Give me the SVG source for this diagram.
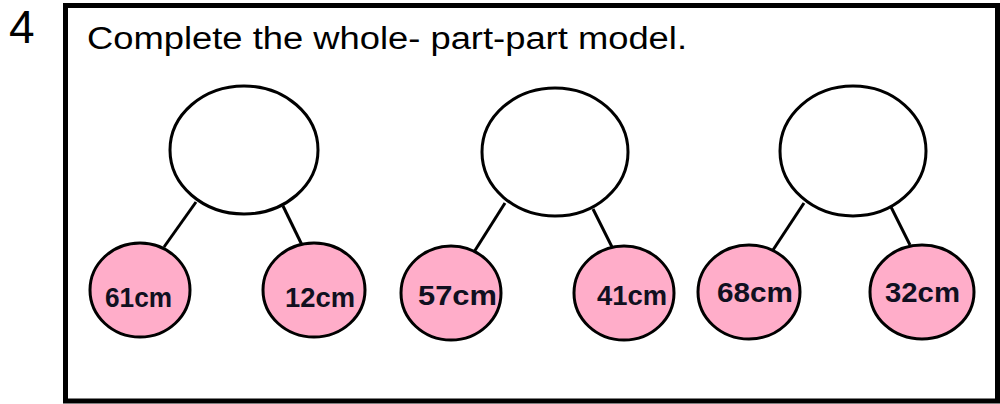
<svg xmlns="http://www.w3.org/2000/svg" width="1000" height="404" viewBox="0 0 1000 404">
<style>
.frame{fill:none;stroke:#000;stroke-width:5}
.whole{fill:#fff;stroke:#000;stroke-width:3}
.part{fill:#FFADC9;stroke:#000;stroke-width:3}
.edge{stroke:#000;stroke-width:3;fill:none}
.lbl{font-family:"Liberation Sans",Arial,sans-serif;font-weight:bold;font-size:28px;fill:#101020}
.title{font-family:"Liberation Sans",Arial,sans-serif;font-size:31px;fill:#000}
.num{font-family:"Liberation Sans",Arial,sans-serif;font-size:46px;fill:#000}
</style>
<rect width="1000" height="404" fill="#fff"/>
<text class="num" x="9" y="43">4</text>
<rect class="frame" x="65.5" y="5.5" width="932" height="395.5"/>
<text class="title" x="87" y="49" textLength="600" lengthAdjust="spacingAndGlyphs">Complete the whole- part-part model.</text>
<g id="connectors">
<line class="edge" x1="196" y1="202" x2="164" y2="247"/>
<line class="edge" x1="283" y1="206" x2="302" y2="245"/>
<line class="edge" x1="505" y1="203" x2="474" y2="252"/>
<line class="edge" x1="593" y1="209" x2="612" y2="247"/>
<line class="edge" x1="804" y1="203" x2="773" y2="250"/>
<line class="edge" x1="891" y1="207" x2="910" y2="245"/>
</g>
<g id="whole1"><ellipse class="whole" cx="244" cy="150" rx="74" ry="64"/></g>
<g id="whole2"><ellipse class="whole" cx="555" cy="152" rx="73" ry="64"/></g>
<g id="whole3"><ellipse class="whole" cx="853" cy="151" rx="73" ry="65"/></g>
<g id="part61"><ellipse class="part" cx="140" cy="290" rx="50" ry="47"/><text class="lbl" x="105" y="307" textLength="67" lengthAdjust="spacingAndGlyphs">61cm</text></g>
<g id="part12"><ellipse class="part" cx="314" cy="290" rx="51" ry="47"/><text class="lbl" x="285" y="307" textLength="70" lengthAdjust="spacingAndGlyphs">12cm</text></g>
<g id="part57"><ellipse class="part" cx="451" cy="293" rx="50" ry="47"/><text class="lbl" x="418" y="305" textLength="79" lengthAdjust="spacingAndGlyphs">57cm</text></g>
<g id="part41"><ellipse class="part" cx="624" cy="293" rx="50" ry="47"/><text class="lbl" x="597" y="305" textLength="70" lengthAdjust="spacingAndGlyphs">41cm</text></g>
<g id="part68"><ellipse class="part" cx="749" cy="292" rx="51" ry="47"/><text class="lbl" x="717" y="302" textLength="76" lengthAdjust="spacingAndGlyphs">68cm</text></g>
<g id="part32"><ellipse class="part" cx="922" cy="292" rx="52" ry="47"/><text class="lbl" x="885" y="302" textLength="75" lengthAdjust="spacingAndGlyphs">32cm</text></g>
</svg>
